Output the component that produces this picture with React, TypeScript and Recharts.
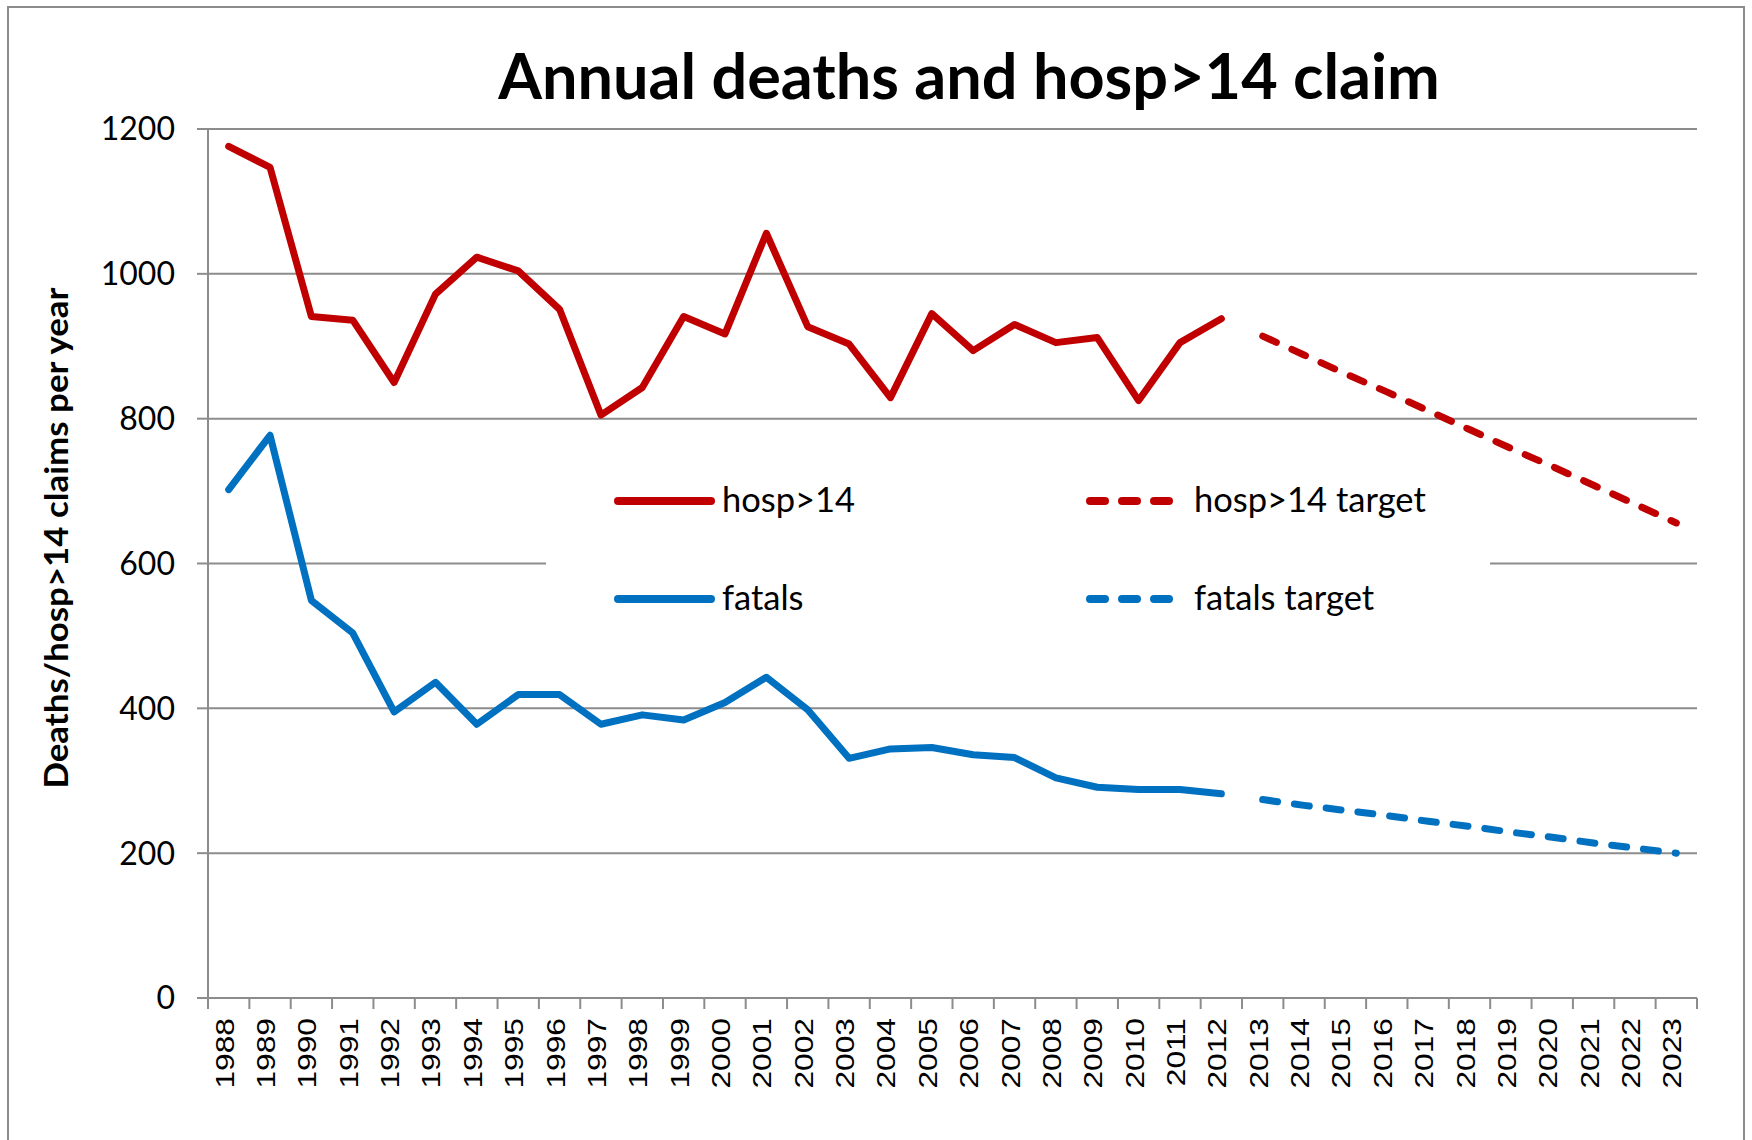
import React from 'react';
import { LineChart, Line, XAxis, YAxis, CartesianGrid, Legend } from 'recharts';

// ---- data ----
const years = [
  1988, 1989, 1990, 1991, 1992, 1993, 1994, 1995, 1996, 1997, 1998, 1999,
  2000, 2001, 2002, 2003, 2004, 2005, 2006, 2007, 2008, 2009, 2010, 2011,
  2012, 2013, 2014, 2015, 2016, 2017, 2018, 2019, 2020, 2021, 2022, 2023,
];
// 1988..2012
const hospValues = [
  1176, 1147, 941, 936, 850, 972, 1023, 1004, 951, 805, 843, 941, 917, 1056,
  927, 903, 829, 945, 894, 930, 905, 912, 825, 905, 938,
];
const fatalValues = [
  702, 777, 549, 504, 395, 436, 378, 419, 419, 378, 391, 384, 408, 443, 398,
  331, 344, 346, 336, 332, 304, 291, 288, 288, 282,
];
// 2013..2023
const targetYears = [2013, 2014, 2015, 2016, 2017, 2018, 2019, 2020, 2021, 2022, 2023];
const hospTargetValues = [914, 888, 862, 837, 811, 785, 759, 734, 708, 682, 656];
const fatalTargetValues = [274, 266, 259, 252, 244, 237, 229, 222, 214, 207, 200];
const yTicks = [0, 200, 400, 600, 800, 1000, 1200];

const TITLE = 'Annual deaths and hosp>14 claim';
const Y_TITLE = 'Deaths/hosp>14 claims per year';
const NAMES: Record<string, string> = {
  hosp: 'hosp>14',
  hospTarget: 'hosp>14 target',
  fatals: 'fatals',
  fatalsTarget: 'fatals target',
};

const data = years.map((year, i) => {
  const t = targetYears.indexOf(year);
  return {
    year,
    hosp: i < hospValues.length ? hospValues[i] : null,
    fatals: i < fatalValues.length ? fatalValues[i] : null,
    hospTarget: t >= 0 ? hospTargetValues[t] : null,
    fatalsTarget: t >= 0 ? fatalTargetValues[t] : null,
  };
});

// tick marks sit between categories (Excel style)
const boundaryTicks = [...years.map((y) => y - 0.5), years[years.length - 1] + 0.5];
const xDomain: [number, number] = [boundaryTicks[0], boundaryTicks[boundaryTicks.length - 1]];

const RED = '#C00000';
const BLUE = '#0070C0';
const GRID = '#8c8c8c';
const DASH = '15 17';

const YearTick = (props: any) => {
  const { x, y, payload } = props;
  return (
    <text
      transform={`translate(${x + 5},${y + 19}) rotate(-90) scale(1.22,1)`}
      textAnchor="end"
      fontFamily="'Liberation Sans', Arial, sans-serif"
      fontSize={26}
      fill="#000"
    >
      {payload.value}
    </text>
  );
};

const EmptyTick = () => <g />;

const legendPos: Record<string, { x1: number; x2: number; y: number; tx: number }> = {
  hosp: { x1: 72, x2: 165, y: 61, tx: 176 },
  hospTarget: { x1: 544, x2: 623, y: 61, tx: 648 },
  fatals: { x1: 72, x2: 165, y: 159, tx: 176 },
  fatalsTarget: { x1: 544, x2: 623, y: 159, tx: 648 },
};

const LegendBox = (props: any) => {
  const payload: any[] = props.payload || [];
  return (
    <svg width={944} height={220} style={{ display: 'block' }}>
      <rect x={0} y={0} width={944} height={220} fill="#fff" />
      {payload.map((entry: any) => {
        const key = String(entry.dataKey);
        const p = legendPos[key];
        if (!p) return null;
        const dashed = key.endsWith('Target');
        return (
          <g key={key}>
            <line
              x1={p.x1}
              x2={p.x2}
              y1={p.y}
              y2={p.y}
              stroke={entry.color}
              strokeWidth={8}
              strokeLinecap="round"
              strokeDasharray={dashed ? DASH : undefined}
            />
            <text x={p.tx} y={p.y + 11} fontFamily="Lato, sans-serif" fontSize={34.5} fill="#000">
              {entry.value}
            </text>
          </g>
        );
      })}
    </svg>
  );
};

export default function App() {
  return (
    <div style={{ position: 'absolute', left: 0, top: 0, width: 1752, height: 1140, background: '#fff' }}>
      <LineChart
        width={1752}
        height={1140}
        data={data}
        margin={{ top: 129, right: 55, bottom: 0, left: 0 }}
      >
        <CartesianGrid
          xAxisId="years"
          horizontal
          vertical={false}
          stroke={GRID}
          strokeWidth={2}
        />
        <XAxis
          xAxisId="marks"
          type="number"
          dataKey="year"
          domain={xDomain}
          ticks={boundaryTicks}
          interval={0}
          tick={EmptyTick}
          tickSize={11}
          tickLine={{ stroke: GRID, strokeWidth: 2 }}
          axisLine={{ stroke: GRID, strokeWidth: 2 }}
          height={1}
        />
        <XAxis
          xAxisId="years"
          type="number"
          dataKey="year"
          domain={xDomain}
          ticks={years}
          interval={0}
          tick={<YearTick />}
          tickLine={false}
          tickSize={0}
          tickMargin={0}
          axisLine={false}
          height={141}
        />
        <YAxis
          domain={[0, 1200]}
          ticks={yTicks}
          interval={0}
          width={208}
          tickSize={11}
          tickMargin={22}
          tickLine={{ stroke: GRID, strokeWidth: 2 }}
          axisLine={{ stroke: GRID, strokeWidth: 2 }}
          tick={{ fill: '#000', fontSize: 32, fontFamily: 'Lato, sans-serif' }}
        />
        <Legend
          layout="horizontal"
          verticalAlign="middle"
          align="center"
          content={<LegendBox />}
          wrapperStyle={{ left: 546, top: 440, width: 944, height: 220, margin: 0 }}
        />
        <Line
          xAxisId="years"
          dataKey="hosp"
          name={NAMES.hosp}
          stroke={RED}
          strokeWidth={7}
          strokeLinecap="round"
          strokeLinejoin="round"
          dot={false}
          isAnimationActive={false}
        />
        <Line
          xAxisId="years"
          dataKey="hospTarget"
          name={NAMES.hospTarget}
          stroke={RED}
          strokeWidth={7}
          strokeDasharray={DASH}
          strokeLinecap="round"
          strokeLinejoin="round"
          dot={false}
          isAnimationActive={false}
        />
        <Line
          xAxisId="years"
          dataKey="fatals"
          name={NAMES.fatals}
          stroke={BLUE}
          strokeWidth={7}
          strokeLinecap="round"
          strokeLinejoin="round"
          dot={false}
          isAnimationActive={false}
        />
        <Line
          xAxisId="years"
          dataKey="fatalsTarget"
          name={NAMES.fatalsTarget}
          stroke={BLUE}
          strokeWidth={7}
          strokeDasharray={DASH}
          strokeLinecap="round"
          strokeLinejoin="round"
          dot={false}
          isAnimationActive={false}
        />
      </LineChart>
      <svg
        width={1752}
        height={1140}
        style={{ position: 'absolute', left: 0, top: 0, pointerEvents: 'none' }}
      >
        <rect x={8} y={7} width={1736} height={1150} fill="none" stroke={GRID} strokeWidth={2} />
        <text
          x={969}
          y={99}
          textAnchor="middle"
          fontFamily="Lato, sans-serif"
          fontWeight="bold"
          fontSize={63}
          fill="#000"
        >
          {TITLE}
        </text>
        <text
          transform="translate(68,538) rotate(-90) scale(1.09,1)"
          textAnchor="middle"
          fontFamily="Lato, sans-serif"
          fontWeight="bold"
          fontSize={32}
          fill="#000"
        >
          {Y_TITLE}
        </text>
      </svg>
    </div>
  );
}
